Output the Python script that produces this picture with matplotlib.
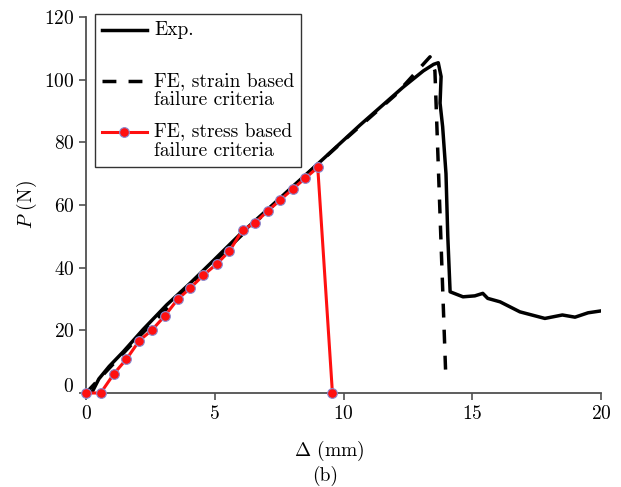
import matplotlib
matplotlib.use("Agg")
import matplotlib.pyplot as plt
import matplotlib.transforms as mtransforms
from matplotlib.legend_handler import HandlerLine2D
import numpy as np

plt.rcParams['font.family'] = 'serif'
plt.rcParams['font.serif'] = ['cmr10']
plt.rcParams['mathtext.fontset'] = 'cm'
plt.rcParams['axes.formatter.use_mathtext'] = True

exp_x = [0.22, 0.5, 0.9, 1.45, 2.22, 3.13, 4.04, 4.94, 6.0, 7.0, 8.0, 8.96,
         9.86, 10.64, 11.54, 12.3, 13.1, 13.5, 13.68, 13.79, 13.75, 13.85,
         13.98, 14.05, 14.14, 14.64, 15.1, 15.41, 15.6, 16.08, 16.85, 17.82,
         18.5, 18.99, 19.5, 20.0]
exp_y = [0.0, 4.5, 8.5, 13.2, 20.3, 28.1, 35.0, 42.2, 50.8, 58.2, 65.7, 72.8,
         79.6, 85.5, 92.0, 97.5, 102.8, 104.9, 105.4, 101.0, 92.5, 85.0,
         70.0, 50.0, 32.3, 30.7, 31.0, 31.8, 30.2, 29.1, 25.9, 23.8,
         24.9, 24.2, 25.6, 26.2]

# FE, strain based failure criteria
strain_x = [0.0, 2.0, 4.0, 6.0, 8.0, 10.0, 12.0, 13.36, 13.55, 13.98]
strain_y = [0.0, 17.5, 34.0, 50.0, 65.5, 80.5, 95.0, 107.3, 102.8, 3.6]

# FE, stress based failure criteria
stress_x = [0.0, 0.57, 1.09, 1.57, 2.07, 2.56, 3.05, 3.56, 4.05, 4.56, 5.08,
            5.57, 6.08, 6.56, 7.06, 7.54, 8.03, 8.52, 9.0, 9.57]
stress_y = [0.0, 0.0, 6.2, 10.8, 16.7, 20.1, 24.5, 29.9, 33.5, 37.6, 41.2,
            45.3, 52.0, 54.3, 58.1, 61.6, 65.1, 68.6, 72.0, 0.0]


class FirstLineHandler(HandlerLine2D):
    # put the legend handle on the first line of a two-line label
    def __init__(self, shift=0.0, **kw):
        super().__init__(**kw)
        self.shift = shift

    def create_artists(self, legend, orig_handle, xdescent, ydescent,
                       width, height, fontsize, trans):
        arts = super().create_artists(legend, orig_handle, xdescent, ydescent,
                                      width, height, fontsize, trans)
        for a in arts:
            a.set_ydata(np.asarray(a.get_ydata()) + self.shift * fontsize)
        return arts


fig = plt.figure(figsize=(6.21, 4.87), dpi=100)
ax = fig.add_axes([86/621, 1 - 393/487, (601 - 86)/621, (393 - 17)/487])

l1, = ax.plot(exp_x, exp_y, color='black', lw=2.5, label='Exp.\n ')
l2, = ax.plot(strain_x, strain_y, color='black', lw=2.5, ls=(0, (4, 3.5)),
              label='FE, strain based\nfailure criteria')
l3, = ax.plot(stress_x, stress_y, color='#ff1010', lw=2.2, marker='o', ms=7,
              mfc='#ff1010', mec='#8a8ad0', mew=0.8, clip_on=False, zorder=3,
              label='FE, stress based\nfailure criteria')

ax.set_xlim(0, 20)
ax.set_ylim(0, 120)
ax.set_xticks([0, 5, 10, 15, 20])
ax.set_yticks([0, 20, 40, 60, 80, 100, 120])
for s in ['top', 'right']:
    ax.spines[s].set_visible(False)
for s in ['left', 'bottom']:
    ax.spines[s].set_color('#505050')
    ax.spines[s].set_linewidth(1.3)
ax.tick_params(direction='out', length=5, width=1.2, color='#505050',
               labelsize=14)

# the "0" on the y axis sits a little above its tick in the original
lab0 = ax.yaxis.get_major_ticks()[0].label1
lab0.set_transform(lab0.get_transform() +
                   mtransforms.ScaledTranslation(0, 8/100, fig.dpi_scale_trans))

ax.set_ylabel('$P$ (N)', fontsize=14, labelpad=3.5)
fig.text(329/621, 1 - 451/487, r'$\Delta$ (mm)', fontsize=14,
         ha='center', va='center')
fig.text(325/621, 1 - 476/487, '(b)', fontsize=14, ha='center', va='center')

hl = FirstLineHandler(shift=0.5)
leg = ax.legend(handles=[l1, l2, l3], loc='upper left',
                bbox_to_anchor=(95/621, 1 - 14/487),
                bbox_transform=fig.transFigure, borderaxespad=0,
                fancybox=False, edgecolor='black', fontsize=14,
                handlelength=2.3, labelspacing=0.7, borderpad=0.35,
                handletextpad=0.4,
                handler_map={l1: hl, l2: hl, l3: hl})
leg.get_frame().set_linewidth(1.0)
for t in leg.get_texts():
    t.set_linespacing(1.1)

fig.savefig('out.png', dpi=100)
